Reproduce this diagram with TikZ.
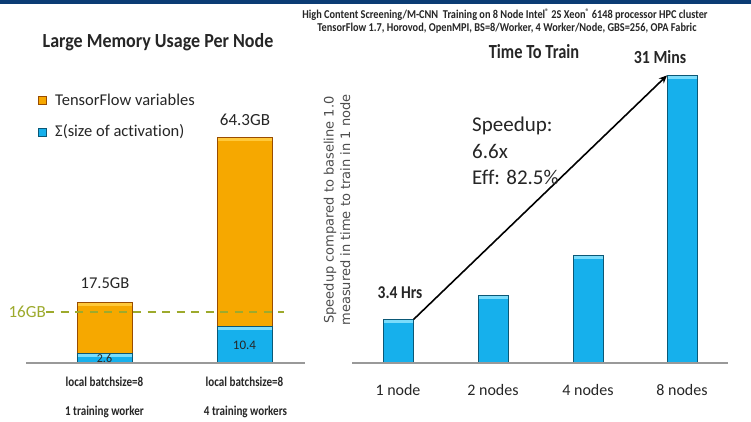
\documentclass[tikz,border=0pt]{standalone}
\usepackage{fontspec}
\usetikzlibrary{arrows.meta}
\setmainfont{Carlito}[Ligatures={NoCommon}]
\newfontfamily\axisfont{DejaVu Sans}
% narrow bold lettering for headings and captions
\newcommand\cnd[2]{\scalebox{#1}[1]{#2}}
\begin{document}
\begin{tikzpicture}[x=1pt,y=-1pt,
  txt/.style={inner sep=0pt, text=black!85},
  orangebar/.style={draw=orange!60!black, line width=0.6pt, fill=barorange, inner sep=0pt,
    anchor=south west, minimum width=55pt,
    path picture={\fill[barorangehi] (path picture bounding box.north west) rectangle ([yshift=-3pt]path picture bounding box.north east);}},
  bluebar/.style={draw=barblue!50!black, line width=0.6pt, fill=barblue, inner sep=0pt,
    anchor=south west,
    path picture={\fill[barbluehi] (path picture bounding box.north west) rectangle ([yshift=-3pt]path picture bounding box.north east);}},
  baseline/.style={draw=black!40, line width=1.2pt},
  limit/.style={draw=limitgreen, line width=2.2pt, dash pattern=on 8pt off 6.5pt},
  speedarrow/.style={draw=black, line width=1.6pt, -{Stealth[length=8pt,width=7pt]}}
]
\definecolor{barorange}{HTML}{F6A800}
\definecolor{barorangehi}{HTML}{FFC93A}
\definecolor{barblue}{HTML}{16B0EC}
\definecolor{barbluehi}{HTML}{7ADCFB}
\definecolor{limitgreen}{HTML}{9DAA2C}
\definecolor{bandblue}{HTML}{0B3C74}

\useasboundingbox (0,0) rectangle (751,421);
\fill[white] (0,0) rectangle (751,421);
\fill[bandblue] (0,0) rectangle (751,3.5);

% ---- left chart: memory per node ----
\node[txt, font=\fontsize{20}{22}\selectfont\bfseries] (ltitle) at (158,42) {\cnd{0.9}{Large Memory Usage Per Node}};

\node[fill=barorange, draw=orange!60!black, line width=0.5pt, minimum size=8pt, inner sep=0pt] (legor) at (42,100) {};
\node[txt, anchor=west, font=\fontsize{16.5}{18}\selectfont] (legortxt) at (55,100) {TensorFlow variables};
\node[fill=barblue, draw=barblue!50!black, line width=0.5pt, minimum size=8pt, inner sep=0pt] (legbl) at (42,132) {};
\node[txt, anchor=west, font=\fontsize{16.5}{18}\selectfont] (legbltxt) at (55,132) {Σ(size of activation)};

\node[orangebar, minimum height=51pt] (m1o) at (77,354) {};
\node[bluebar, minimum width=55pt, minimum height=9pt] (m1b) at (77,363) {};
\node[orangebar, minimum height=189pt] (m2o) at (217,327) {};
\node[bluebar, minimum width=55pt, minimum height=36pt] (m2b) at (217,363) {};

\draw[baseline] (26,363) -- (305,363);

\node[txt, font=\fontsize{12}{14}\selectfont] (v1) at (104.5,358.5) {2.6};
\node[txt, font=\fontsize{13}{15}\selectfont] (v2) at (244.5,345) {10.4};
\node[txt, font=\fontsize{16.5}{18}\selectfont] (t1) at (105,283) {17.5GB};
\node[txt, font=\fontsize{17}{19}\selectfont] (t2) at (245,120) {64.3GB};

\node[txt, anchor=east, text=limitgreen, font=\fontsize{17}{19}\selectfont] (lim) at (46,312) {16GB};
\coordinate (limend) at (284,312);
\draw[limit] (lim.east) -- (limend);

\node[txt, font=\fontsize{13.5}{15}\selectfont\bfseries] (c1a) at (104.5,382) {\cnd{0.82}{local batchsize=8}};
\node[txt, font=\fontsize{13.5}{15}\selectfont\bfseries] (c1b) at (104.5,412) {\cnd{0.82}{1 training worker}};
\node[txt, font=\fontsize{13.5}{15}\selectfont\bfseries] (c2a) at (244.5,382) {\cnd{0.82}{local batchsize=8}};
\node[txt, font=\fontsize{13.5}{15}\selectfont\bfseries] (c2b) at (245.5,412) {\cnd{0.82}{4 training workers}};

% ---- right chart: time to train ----
\node[txt, font=\fontsize{12}{13}\selectfont\bfseries] (hdr1) at (505,15)
  {\cnd{0.86}{High Content Screening/M-CNN\ \ Training on 8 Node Intel\textsuperscript{®} 2S Xeon\textsuperscript{®} 6148 processor HPC cluster}};
\node[txt, font=\fontsize{12}{13}\selectfont\bfseries] (hdr2) at (507,28)
  {\cnd{0.86}{TensorFlow 1.7, Horovod, OpenMPI, BS=8/Worker, 4 Worker/Node, GBS=256, OPA Fabric}};
\node[txt, font=\fontsize{20}{22}\selectfont\bfseries] (rtitle) at (534,52) {\cnd{0.82}{Time To Train}};

\node[txt, rotate=90, align=center, text=black!70, font=\axisfont\fontsize{13}{16.5}\selectfont] (ylab) at (337,210)
  {Speedup compared to baseline 1.0\\measured in time to train in 1 node};

\node[bluebar, minimum width=30pt, minimum height=43pt] (b1) at (383,363) {};
\node[bluebar, minimum width=30pt, minimum height=67pt] (b2) at (478,363) {};
\node[bluebar, minimum width=30pt, minimum height=107pt] (b4) at (573,363) {};
\node[bluebar, minimum width=30pt, minimum height=287pt] (b8) at (667,363) {};

\draw[baseline] (352,363) -- (728,363);

\node[txt, font=\fontsize{16}{18}\selectfont] (n1) at (398,390) {1 node};
\node[txt, font=\fontsize{16}{18}\selectfont] (n2) at (493,390) {2 nodes};
\node[txt, font=\fontsize{16}{18}\selectfont] (n4) at (588,390) {4 nodes};
\node[txt, font=\fontsize{16}{18}\selectfont] (n8) at (682,390) {8 nodes};

\node[txt, font=\fontsize{18}{20}\selectfont\bfseries] (hrs) at (400,293) {\cnd{0.86}{3.4 Hrs}};
\node[txt, font=\fontsize{18.5}{20}\selectfont\bfseries] (mins) at (660,57) {\cnd{0.86}{31 Mins}};

\draw[speedarrow] (b1.north east) -- (b8.north west);

\node[txt, anchor=north west, align=left, font=\fontsize{21}{26.5}\selectfont] (spd) at (472,117)
  {Speedup:\\6.6x\\Eff: 82.5\%};
\end{tikzpicture}
\end{document}
